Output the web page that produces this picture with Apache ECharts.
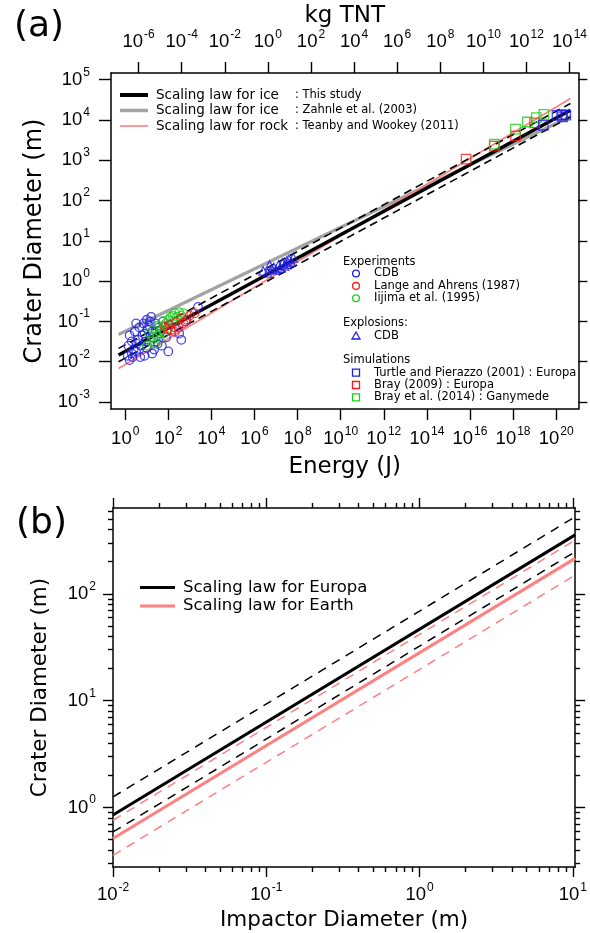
<!DOCTYPE html>
<html><head><meta charset="utf-8">
<script src="https://cdn.jsdelivr.net/npm/echarts@6/dist/echarts.min.js"></script>
<style>html,body{margin:0;padding:0;background:#fff}#c{width:590px;height:933px}</style>
</head><body><div id="c"></div>
<script>
// ================= DATA =================
// ---- Panel (a): crater diameter (m) vs impact energy (J) ----
const energyTickExp = [0, 2, 4, 6, 8, 10, 12, 14, 16, 18, 20];     // 10^n J
const tntTickExp = [-6, -4, -2, 0, 2, 4, 6, 8, 10, 12, 14];        // 10^n kg TNT
const craterTickExpA = [-3, -2, -1, 0, 1, 2, 3, 4, 5];             // 10^n m
const joulesPerKgTNT = 4.184e6;

// scaling-law end points
const lawEnergy = [0.49, 4.6e20];
const iceThisStudy = [0.0146, 17500];
const iceThisStudyUpper = [0.0214, 25600];
const iceThisStudyLower = [0.0100, 11900];
const iceZahnle = [0.0475, 12200];
const rockTeanby = [0.0068, 34100];

// Experiments: CDB (blue circles)
const cdbExpE = [1.3, 1.6, 2.0, 2.2, 2.5, 3.2, 3.5, 4.0, 5.0, 5.6, 6.3, 7.9, 8.9, 10, 11, 13, 14, 16, 18, 20, 22, 25, 32, 35, 40, 50, 56, 1.6, 2.0, 2.8, 4.5, 7.1, 10, 3.2, 320, 400, 200, 2400, 630, 1.4, 79, 100, 18, 7.9];
const cdbExpD = [0.014, 0.011, 0.016, 0.013, 0.020, 0.018, 0.028, 0.035, 0.013, 0.025, 0.045, 0.050, 0.032, 0.022, 0.063, 0.079, 0.10, 0.13, 0.056, 0.040, 0.020, 0.089, 0.028, 0.071, 0.050, 0.025, 0.10, 0.045, 0.032, 0.056, 0.071, 0.089, 0.11, 0.089, 0.050, 0.035, 0.071, 0.23, 0.10, 0.025, 0.040, 0.018, 0.016, 0.014];
// Experiments: Lange and Ahrens (1987) (red circles)
const langeE = [70, 120, 230, 400, 980, 1660, 130, 300, 500, 200, 700, 90];
const langeD = [0.074, 0.081, 0.098, 0.12, 0.14, 0.16, 0.060, 0.072, 0.090, 0.055, 0.11, 0.065];
// Experiments: Iijima et al. (1995) (green circles)
const iijimaE = [16, 20, 32, 40, 50, 63, 79, 100, 126, 160, 200, 320, 400, 25, 40, 63, 100, 160, 250, 32, 56, 13, 20, 10, 500];
const iijimaD = [0.032, 0.040, 0.045, 0.056, 0.063, 0.079, 0.089, 0.11, 0.13, 0.14, 0.16, 0.17, 0.14, 0.028, 0.035, 0.050, 0.063, 0.10, 0.13, 0.079, 0.10, 0.050, 0.063, 0.025, 0.16];
// Explosions: CDB (blue triangles)
const cdbExplE = [2.5e6, 4.0e6, 6.3e6, 7.9e6, 1.0e7, 1.3e7, 2.0e7, 2.5e7, 3.2e7, 4.0e7, 5.0e7, 6.3e7, 1.6e7, 5.0e6, 3.2e7];
const cdbExplD = [1.8, 1.6, 2.0, 2.2, 1.9, 2.5, 2.8, 2.4, 3.2, 3.5, 3.0, 3.8, 2.1, 2.5, 2.6];
// Simulations
const turtleE = [2.5e19, 1.1e20, 1.8e20, 2.8e20, 2.0e20];
const turtleD = [7400, 13000, 13500, 13200, 12000];
const bray2009E = [6.6e15, 1.35e17, 1.3e18, 1.0e19];
const bray2009D = [1070, 2240, 4000, 8500];
const bray2014E = [1.35e17, 1.3e18, 4.6e18, 1.2e19, 2.7e19];
const bray2014D = [2500, 5900, 8900, 11500, 13800];

// ---- Panel (b): crater diameter (m) vs impactor diameter (m) ----
const impactorTickExp = [-2, -1, 0, 1];
const craterTickExpB = [0, 1, 2];
const impactorD = [0.01, 10.35];
const europaD = [0.851, 357];
const europaUpperD = [1.256, 527];
const europaLowerD = [0.590, 248];
const earthD = [0.512, 215];
const earthUpperD = [0.760, 319];
const earthLowerD = [0.357, 150];

// ================= CHART =================
const L = Math.log10;
const tickFont = 'Liberation Sans';
const titleFont = 'DejaVu Sans';
const BLUE = '#1f1fee', RED = '#ff1a1a', GREEN = '#19d019', PINK = '#ff8080', GREY = '#a3a3a3';

const aX = [-0.66, 21.03], aY = [-3.174, 5.166];
const bX = [-2, 1.015], bY = [-0.557, 2.804];
const tntShift = L(joulesPerKgTNT);

function supFmt(v) { return '{b|10}{s|' + String(Math.round(v)) + '}'; }
function rich(bs, ss) {
  return {
    b: {fontSize: bs, lineHeight: bs + 2, fontFamily: tickFont, color: '#000'},
    s: {fontSize: ss, lineHeight: ss, fontFamily: tickFont, color: '#000', padding: [0, 0, 15, 1]}
  };
}
function minorTicks(exps) {
  const out = [];
  exps.forEach(e => { for (let k = 2; k <= 9; k++) out.push(e + L(k)); });
  return out;
}
function mkAxis(o) {
  const a = {
    type: 'value', gridIndex: o.grid, position: o.pos, min: o.min, max: o.max,
    splitLine: {show: false}, splitArea: {show: false},
    axisLine: {show: o.line !== false, onZero: false, lineStyle: {color: '#000', width: 1.5}},
    axisTick: {show: true, inside: false, length: o.len, customValues: o.ticks, lineStyle: {color: '#000', width: 1.4}},
    axisLabel: {show: !!o.labels, customValues: o.ticks, margin: o.margin || 8, formatter: supFmt,
      rich: rich(o.bs || 18.5, o.ss || 12), hideOverlap: false},
    axisPointer: {show: false}
  };
  if (o.name) {
    a.name = o.name; a.nameLocation = 'middle'; a.nameGap = o.nameGap;
    a.nameTextStyle = {fontSize: o.nameSize, fontFamily: titleFont, color: '#000'};
  }
  return a;
}

const xAxes = [
  mkAxis({grid: 0, pos: 'bottom', min: aX[0], max: aX[1], ticks: energyTickExp, len: 11, labels: true, margin: 20,
    name: 'Energy (J)', nameGap: 47, nameSize: 23}),
  mkAxis({grid: 0, pos: 'top', min: aX[0] - tntShift, max: aX[1] - tntShift, ticks: tntTickExp, len: 11, labels: true, margin: 21,
    name: 'kg TNT', nameGap: 39, nameSize: 23}),
  mkAxis({grid: 1, pos: 'bottom', min: bX[0], max: bX[1], ticks: impactorTickExp, len: 10, labels: true, margin: 18,
    name: 'Impactor Diameter (m)', nameGap: 40, nameSize: 21.5}),
  mkAxis({grid: 1, pos: 'bottom', min: bX[0], max: bX[1], ticks: minorTicks([-2, -1, 0]), len: 5, line: false}),
  mkAxis({grid: 1, pos: 'top', min: bX[0], max: bX[1], ticks: impactorTickExp, len: 10}),
  mkAxis({grid: 1, pos: 'top', min: bX[0], max: bX[1], ticks: minorTicks([-2, -1, 0]), len: 5, line: false})
];
const yAxes = [
  mkAxis({grid: 0, pos: 'left', min: aY[0], max: aY[1], ticks: craterTickExpA, len: 12, labels: true, margin: 21,
    name: 'Crater Diameter (m)', nameGap: 62, nameSize: 24}),
  mkAxis({grid: 0, pos: 'right', min: aY[0], max: aY[1], ticks: craterTickExpA, len: 9}),
  mkAxis({grid: 1, pos: 'left', min: bY[0], max: bY[1], ticks: craterTickExpB, len: 10, labels: true, margin: 17,
    name: 'Crater Diameter (m)', nameGap: 62, nameSize: 21.5}),
  mkAxis({grid: 1, pos: 'left', min: bY[0], max: bY[1], ticks: minorTicks([-1, 0, 1, 2]), len: 5, line: false}),
  mkAxis({grid: 1, pos: 'right', min: bY[0], max: bY[1], ticks: craterTickExpB, len: 10}),
  mkAxis({grid: 1, pos: 'right', min: bY[0], max: bY[1], ticks: minorTicks([-1, 0, 1, 2]), len: 5, line: false})
];

function lineS(xs, ys, xi, yi, color, width, type, z) {
  return {type: 'line', xAxisIndex: xi, yAxisIndex: yi, data: xs.map((x, i) => [L(x), L(ys[i])]),
    showSymbol: false, symbol: 'none', lineStyle: {color, width, type}, silent: true, animation: false, z, clip: true};
}
function scat(E, D, symbol, size, color) {
  return {type: 'scatter', xAxisIndex: 0, yAxisIndex: 0, data: E.map((e, i) => [L(e), L(D[i])]),
    symbol, symbolSize: size, itemStyle: {color: 'rgba(0,0,0,0)', borderColor: color, borderWidth: 1.3},
    silent: true, animation: false, z: 5};
}

const series = [
  lineS(lawEnergy, iceZahnle, 0, 0, GREY, 3.2, 'solid', 2),
  lineS(lawEnergy, rockTeanby, 0, 0, PINK, 1.6, 'solid', 2),
  lineS(lawEnergy, iceThisStudyUpper, 0, 0, '#000', 1.6, [8, 5], 3),
  lineS(lawEnergy, iceThisStudyLower, 0, 0, '#000', 1.6, [8, 5], 3),
  lineS(lawEnergy, iceThisStudy, 0, 0, '#000', 3.5, 'solid', 4),
  scat(cdbExpE, cdbExpD, 'circle', 8.5, BLUE),
  scat(iijimaE, iijimaD, 'circle', 8.5, GREEN),
  scat(langeE, langeD, 'circle', 8.5, RED),
  scat(cdbExplE, cdbExplD, 'triangle', 8.5, BLUE),
  scat(bray2009E, bray2009D, 'rect', 9.5, RED),
  scat(bray2014E, bray2014D, 'rect', 9.5, GREEN),
  scat(turtleE, turtleD, 'rect', 9.5, BLUE),
  lineS(impactorD, europaUpperD, 2, 2, '#000', 1.5, [9, 7], 2),
  lineS(impactorD, europaLowerD, 2, 2, '#000', 1.5, [9, 7], 2),
  lineS(impactorD, earthUpperD, 2, 2, PINK, 1.5, [9, 7], 2),
  lineS(impactorD, earthLowerD, 2, 2, PINK, 1.5, [9, 7], 2),
  lineS(impactorD, earthD, 2, 2, PINK, 3, 'solid', 3),
  lineS(impactorD, europaD, 2, 2, '#000', 3, 'solid', 3)
];

// ---- legends / panel labels (layout only) ----
const g = [];
function txt(x, y, text, size, family, extra) {
  g.push(Object.assign({type: 'text', x, y, silent: true, z: 10,
    style: {text, font: size + 'px "' + (family || titleFont) + '"', fill: '#000', verticalAlign: 'middle', align: 'left'}}, extra || {}));
}
function seg(x1, x2, y, color, w, dash) {
  g.push({type: 'line', silent: true, z: 10, shape: {x1, y1: y, x2, y2: y},
    style: {stroke: color, lineWidth: w, lineDash: dash || null}});
}
txt(14, 27, '(a)', 36);
txt(16, 524, '(b)', 36);
// legend (a) upper-left
const legA = [
  ['Scaling law for ice', ': This study', '#000', 4],
  ['Scaling law for ice', ': Zahnle et al. (2003)', GREY, 3.5],
  ['Scaling law for rock', ': Teanby and Wookey (2011)', '#ff9a9a', 2]
];
legA.forEach((r, i) => {
  const y = 95 + i * 15.5;
  seg(120, 148, y, r[2], r[3]);
  txt(156, y, r[0], 13.5);
  txt(295, y, r[1], 11.5);
});
// legend (a) right
const hx = 343, mx = 356, tx = 374;
txt(hx, 262, 'Experiments', 11.5);
[['CDB', BLUE], ['Lange and Ahrens (1987)', RED], ['Iijima et al. (1995)', GREEN]].forEach((r, i) => {
  const y = 273.5 + i * 12.4;
  g.push({type: 'circle', silent: true, z: 10, shape: {cx: mx, cy: y, r: 3.4}, style: {fill: 'none', stroke: r[1], lineWidth: 1.3}});
  txt(tx, y, r[0], 11.5);
});
txt(hx, 323.5, 'Explosions:', 11.5);
g.push({type: 'polygon', silent: true, z: 10, shape: {points: [[mx, 332], [mx - 4, 339], [mx + 4, 339]]}, style: {fill: 'none', stroke: BLUE, lineWidth: 1.3}});
txt(tx, 336, 'CDB', 11.5);
txt(hx, 360, 'Simulations', 11.5);
[['Turtle and Pierazzo (2001) : Europa', BLUE], ['Bray (2009) : Europa', RED], ['Bray et al. (2014) : Ganymede', GREEN]].forEach((r, i) => {
  const y = 372.7 + i * 12.3;
  g.push({type: 'rect', silent: true, z: 10, shape: {x: mx - 3.5, y: y - 3.5, width: 7, height: 7}, style: {fill: 'none', stroke: r[1], lineWidth: 1.3}});
  txt(tx, y, r[0], 11.5);
});
// legend (b)
seg(140, 175, 587.5, '#000', 3);
txt(183, 587.5, 'Scaling law for Europa', 16.5);
seg(140, 175, 606, PINK, 3);
txt(183, 606, 'Scaling law for Earth', 16.5);

const chart = echarts.init(document.getElementById('c'), null, {renderer: 'canvas'});
chart.setOption({
  animation: false,
  backgroundColor: '#fff',
  grid: [
    {left: 111, top: 73, width: 470, height: 336, containLabel: false},
    {left: 113, top: 508, width: 467, height: 359, containLabel: false}
  ],
  xAxis: xAxes,
  yAxis: yAxes,
  series,
  graphic: g
});
</script></body></html>
